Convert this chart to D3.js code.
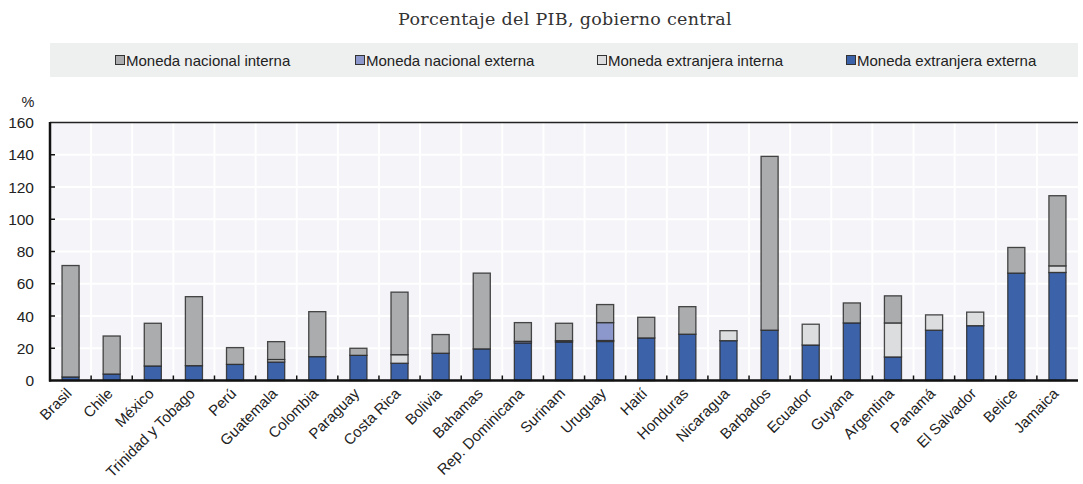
<!DOCTYPE html>
<html><head><meta charset="utf-8">
<script src="https://cdn.jsdelivr.net/npm/d3@7"></script>
<style>
body{margin:0;background:#fff;}
svg{display:block;font-family:"Liberation Sans",Arial,sans-serif;}
</style></head>
<body><svg id="c" width="1083" height="484"></svg>
<script>
const countries = ["Brasil","Chile","México","Trinidad y Tobago","Perú","Guatemala","Colombia","Paraguay","Costa Rica","Bolivia","Bahamas","Rep. Dominicana","Surinam","Uruguay","Haití","Honduras","Nicaragua","Barbados","Ecuador","Guyana","Argentina","Panamá","El Salvador","Belice","Jamaica"];
const fxExterna  = [2.2,4.0,9.0,9.2,10.0,11.5,14.8,15.6,10.7,16.9,19.6,23.3,23.9,24.2,26.4,28.7,24.7,31.2,22.0,35.7,14.6,31.2,34.0,66.6,67.0];
const fxInterna  = [0,0,0,0,0,1.5,0,0,5.3,0,0,0,0,0.6,0,0,6.2,0,12.9,0,21.1,9.5,8.4,0,4.1];
const nacExterna = [0,0,0,0,0,0,0,0,0,0,0,1.0,0.8,11.1,0,0,0,0,0,0,0,0,0,0,0];
const nacInterna = [69.1,23.6,26.5,42.8,10.4,11.1,27.9,4.4,38.8,11.6,47.0,11.6,10.8,11.2,12.8,17.1,0,107.8,0,12.4,16.8,0,0,15.9,43.5];
const yTicks = [0,20,40,60,80,100,120,140,160];
const seriesNames = ["Moneda nacional interna","Moneda nacional externa","Moneda extranjera interna","Moneda extranjera externa"];

const colors = {"Moneda nacional interna":"#abacae","Moneda nacional externa":"#8c98cc","Moneda extranjera interna":"#dcdddf","Moneda extranjera externa":"#3c63aa"};

const svg = d3.select("#c");
const m = {l:50, r:1078, t:122.5, b:380.5};

// title
svg.append("text").attr("x",565).attr("y",25).attr("text-anchor","middle")
  .attr("font-family","'DejaVu Serif',serif").attr("font-size",17.5).attr("letter-spacing",0.3).attr("fill","#333")
  .text("Porcentaje del PIB, gobierno central");

// legend
svg.append("rect").attr("x",50).attr("y",43).attr("width",1028).attr("height",34).attr("fill","#eef0f0");
const legX = [115,355,597,846];
seriesNames.forEach((n,i)=>{
  const g = svg.append("g").attr("transform",`translate(${legX[i]},60)`);
  g.append("rect").attr("x",0.5).attr("y",-4.5).attr("width",9).attr("height",9).attr("fill",colors[n]).attr("stroke","#333").attr("stroke-width",1);
  g.append("text").attr("x",11).attr("y",5.5).attr("font-size",15).attr("fill","#222").text(n);
});

const x = d3.scaleBand().domain(countries).range([m.l,m.r]).paddingInner(0.585).paddingOuter(0.2925);
const xb = d3.scaleBand().domain(countries).range([m.l,m.r]);
const y = d3.scaleLinear().domain([0,160]).range([m.b,m.t]);

// plot background
svg.append("rect").attr("x",m.l).attr("y",m.t).attr("width",m.r-m.l).attr("height",m.b-m.t).attr("fill","#f4f4f9");
// gridlines
svg.append("g").selectAll("line").data(yTicks.slice(1,-1)).join("line")
  .attr("x1",m.l).attr("x2",m.r).attr("y1",d=>y(d)).attr("y2",d=>y(d)).attr("stroke","#fff").attr("stroke-width",2);
svg.append("g").selectAll("line").data(countries.slice(1)).join("line")
  .attr("x1",d=>xb(d)).attr("x2",d=>xb(d)).attr("y1",m.t).attr("y2",m.b).attr("stroke","#fff").attr("stroke-width",2);

// stacked data
const rows = countries.map((c,i)=>({c,
  "Moneda extranjera externa":fxExterna[i],
  "Moneda extranjera interna":fxInterna[i],
  "Moneda nacional externa":nacExterna[i],
  "Moneda nacional interna":nacInterna[i]}));
const order = ["Moneda extranjera externa","Moneda extranjera interna","Moneda nacional externa","Moneda nacional interna"];
const stack = d3.stack().keys(order)(rows);
stack.forEach(s=>{
  svg.append("g").selectAll("rect").data(s.filter(d=>d[1]-d[0]>0)).join("rect")
    .attr("x",d=>x(d.data.c)).attr("width",x.bandwidth())
    .attr("y",d=>y(d[1])).attr("height",d=>y(d[0])-y(d[1]))
    .attr("fill",colors[s.key]).attr("stroke","#2a2a2a").attr("stroke-width",1.3).attr("stroke-opacity",0.85);
});

// axes
svg.append("line").attr("x1",m.l).attr("x2",m.r).attr("y1",m.t).attr("y2",m.t).attr("stroke","#222").attr("stroke-width",1.5);
svg.append("line").attr("x1",m.l).attr("x2",m.l).attr("y1",m.t-0.5).attr("y2",m.b+1).attr("stroke","#111").attr("stroke-width",2.5);
svg.append("line").attr("x1",m.l-1).attr("x2",m.r).attr("y1",m.b).attr("y2",m.b).attr("stroke","#111").attr("stroke-width",2.5);

// y ticks
const yg = svg.append("g");
yg.selectAll("line").data(yTicks.slice(1,-1)).join("line")
  .attr("x1",m.l).attr("x2",m.l+5).attr("y1",d=>y(d)).attr("y2",d=>y(d)).attr("stroke","#111").attr("stroke-width",1.5);
yg.selectAll("text").data(yTicks).join("text")
  .attr("x",34).attr("y",d=>y(d)+5.5).attr("text-anchor","end").attr("font-size",15.5).attr("fill","#222").text(d=>d);
svg.append("text").attr("x",28).attr("y",107).attr("text-anchor","middle").attr("font-size",14.5).attr("fill","#222").text("%");

// x ticks
svg.append("g").selectAll("line").data(countries.slice(1)).join("line")
  .attr("x1",d=>xb(d)).attr("x2",d=>xb(d)).attr("y1",m.b).attr("y2",m.b-5).attr("stroke","#111").attr("stroke-width",1.5);
svg.append("g").selectAll("text").data(countries).join("text")
  .attr("text-anchor","end").attr("font-size",15).attr("fill","#222")
  .attr("transform",d=>`translate(${x(d)+x.bandwidth()/2+2},${m.b+14}) rotate(-45)`)
  .text(d=>d);
</script></body></html>
